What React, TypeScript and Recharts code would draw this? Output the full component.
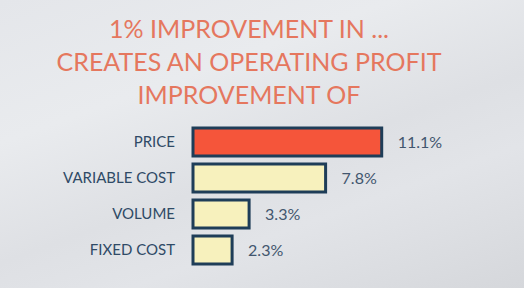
import { BarChart, Bar, XAxis, YAxis, Cell, LabelList } from "recharts";

const categories = ["PRICE", "VARIABLE COST", "VOLUME", "FIXED COST"];
const improvement = [11.1, 7.8, 3.3, 2.3];
const titleLines = ["1% IMPROVEMENT IN ...", "CREATES AN OPERATING PROFIT", "IMPROVEMENT OF"];

const data = categories.map((name, i) => ({ name, value: improvement[i] }));

export default function App() {
  return (
    <div
      style={{
        position: "absolute",
        left: 0,
        top: 0,
        width: 524,
        height: 288,
        overflow: "hidden",
        background:
          "linear-gradient(160deg, #e4e6ea 0%, #e9ebee 30%, #dee0e4 55%, #e2e4e8 70%, #d5d7db 100%)",
        fontFamily: "Lato, 'Open Sans', sans-serif",
      }}
    >
      <div
        style={{
          position: "absolute",
          left: 0,
          top: 12,
          width: 498,
          textAlign: "center",
          color: "#e5775e",
          fontSize: 25,
          lineHeight: "33px",
        }}
      >
        {titleLines.map((t) => (
          <div key={t}>{t}</div>
        ))}
      </div>
      <BarChart
        width={524}
        height={288}
        data={data}
        layout="vertical"
        barCategoryGap={4}
        margin={{ top: 124, right: 93, bottom: 20, left: 0 }}
        style={{ position: "absolute", left: 0, top: 0 }}
      >
        <XAxis type="number" domain={[0, 14]} hide />
        <YAxis
          type="category"
          dataKey="name"
          width={193}
          tickLine={false}
          axisLine={false}
          tickSize={0}
          tickMargin={18}
          tick={{ fill: "#2f4a66", fontSize: 15, fontFamily: "Lato, sans-serif" }}
        />
        <Bar
          dataKey="value"
          stroke="#1e3d58"
          strokeWidth={3}
          isAnimationActive={false}
        >
          {data.map((d, i) => (
            <Cell key={d.name} fill={i === 0 ? "#f5553a" : "#f7f1bd"} />
          ))}
          <LabelList
            dataKey="value"
            position="right"
            offset={16}
            formatter={(v: number) => `${v}%`}
            style={{ fill: "#42566e", fontSize: 16, fontFamily: "Lato, sans-serif" }}
          />
        </Bar>
      </BarChart>
    </div>
  );
}
